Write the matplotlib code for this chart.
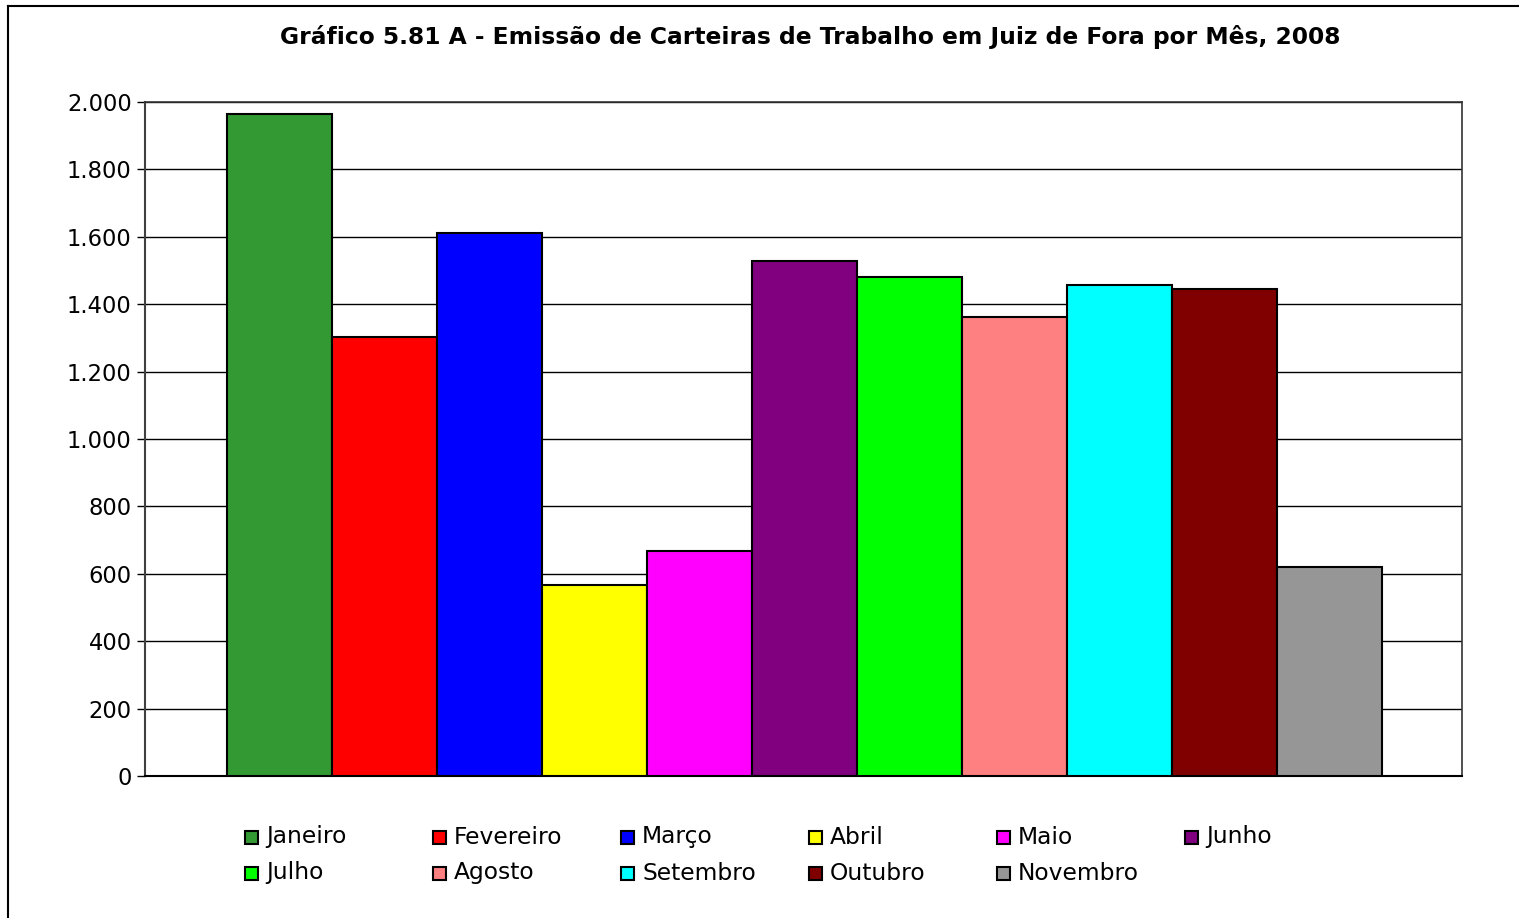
import matplotlib
matplotlib.use("Agg")
import matplotlib.pyplot as plt
from matplotlib.ticker import FuncFormatter, MultipleLocator
from matplotlib.patches import Rectangle
from matplotlib.lines import Line2D

months = ["Janeiro", "Fevereiro", "Março", "Abril", "Maio", "Junho",
          "Julho", "Agosto", "Setembro", "Outubro", "Novembro"]
values = [1963, 1303, 1611, 567, 668, 1528, 1481, 1362, 1457, 1445, 620]
colors = ["#339933", "#FF0000", "#0000FF", "#FFFF00", "#FF00FF", "#800080",
          "#00FF00", "#FF8080", "#00FFFF", "#800000", "#969696"]
title = "Gráfico 5.81 A - Emissão de Carteiras de Trabalho em Juiz de Fora por Mês, 2008"

W, H = 1519, 918
fig = plt.figure(figsize=(W / 100, H / 100), dpi=100)
fig.patch.set_facecolor("white")

# outer frame (top and left visible)
fig.add_artist(Line2D([8 / W, 1.0], [1 - 6 / H, 1 - 6 / H], transform=fig.transFigure,
                      color="black", lw=1.5))
fig.add_artist(Line2D([8 / W, 8 / W], [0, 1 - 6 / H], transform=fig.transFigure,
                      color="black", lw=1.5))

ax_l, ax_r, ax_t, ax_b = 145, 1462, 102, 776
ax = fig.add_axes([ax_l / W, 1 - ax_b / H, (ax_r - ax_l) / W, (ax_b - ax_t) / H])

x = list(range(len(months)))
ax.bar(x, values, width=1.0, color=colors, edgecolor="black", linewidth=1.5, zorder=3)
ax.set_xlim(-0.5 - 82 / 105, len(months) - 0.5 + 80 / 105)
ax.set_ylim(0, 2000)
ax.yaxis.set_major_locator(MultipleLocator(200))
ax.yaxis.set_major_formatter(FuncFormatter(lambda v, p: f"{int(v):,}".replace(",", ".")))
ax.grid(axis="y", color="black", linewidth=1.0, zorder=0)
ax.set_xticks([])
ax.tick_params(axis="y", length=6, width=1, labelsize=16.3, pad=3.5, colors="black")
for s in ax.spines.values():
    s.set_color("#333333")
    s.set_linewidth(1.2)
ax.spines["left"].set_color("#404040")
ax.spines["left"].set_linewidth(1.5)
ax.spines["bottom"].set_color("black")
ax.spines["bottom"].set_linewidth(1.5)

fig.text(810 / W, 1 - 37 / H, title, ha="center", va="center",
         fontsize=16.8, fontweight="bold")

# legend, row-major, 6 columns with fixed spacing
x0, dx = 245, 188
rows_y = [837, 873]
sq = 13
for i, (m, c) in enumerate(zip(months, colors)):
    r, col = divmod(i, 6)
    xm = x0 + col * dx
    ym = rows_y[r]
    fig.add_artist(Rectangle((xm / W, 1 - (ym + sq / 2) / H), sq / W, sq / H,
                             transform=fig.transFigure, facecolor=c,
                             edgecolor="black", linewidth=1.5))
    fig.text((xm + 21) / W, 1 - ym / H, m, ha="left", va="center", fontsize=16.8)

fig.savefig("out.png", dpi=100)
